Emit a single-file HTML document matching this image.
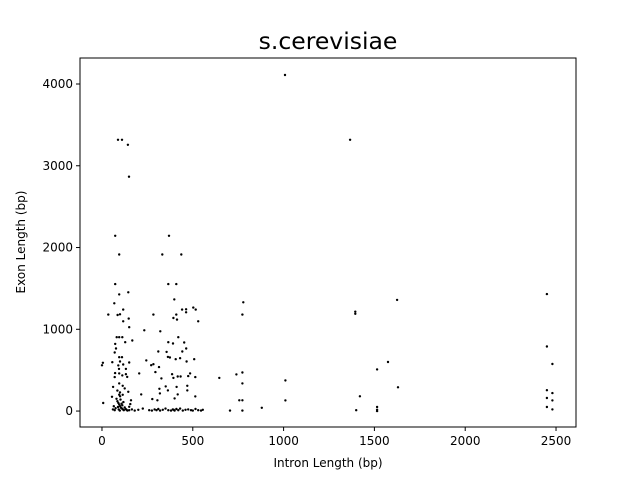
<!DOCTYPE html>
<html><head><meta charset="utf-8"><style>
body{margin:0;background:#fff;}
svg text{font-family:"DejaVu Sans","Liberation Sans",sans-serif;fill:#000;}
</style></head><body>
<svg id="chart" width="640" height="480" viewBox="0 0 640 480" xmlns="http://www.w3.org/2000/svg">
<rect width="640" height="480" fill="#fff"/>
<text x="328" y="49" font-size="23.5" text-anchor="middle">s.cerevisiae</text>
<g id="marks"></g>
<g id="axes"></g>
<rect x="80" y="58" width="496" height="369" fill="none" stroke="#000" stroke-width="1"/>
<text x="328" y="467" font-size="12" text-anchor="middle">Intron Length (bp)</text>
<text transform="translate(25,242) rotate(-90)" font-size="12" text-anchor="middle">Exon Length (bp)</text>
</svg>
<script>
const xTicks=[0,500,1000,1500,2000,2500];
const yTicks=[0,1000,2000,3000,4000];
const xs=[88,110,143,149,1008,1366,73,369,95,332,437,73,365,409,95,145,398,68,778,35,86,99,117,147,117,150,283,233,321,393,413,409,441,463,463,503,516,530,773,
81,95,112,128,167,73,77,70,95,110,99,0,5,57,117,150,90,94,132,72,95,112,132,139,70,205,
365,391,420,453,464,442,310,356,363,374,406,430,466,508,244,271,283,314,294,327,386,393,417,433,475,485,514,646,740,773,773,
61,95,114,125,55,99,114,145,216,316,351,363,319,277,305,411,417,400,470,470,514,7,756,773,160,156,150,
80,85,90,95,100,105,110,115,120,88,92,98,102,108,112,118,125,130,135,75,70,65,60,140,100,95,85,
150,165,180,200,225,260,275,290,300,310,320,335,350,365,380,390,395,400,410,420,430,445,460,475,490,500,515,530,545,555,705,773,880,
1010,1010,1395,1395,1400,1420,1515,1515,1515,1515,1575,1625,1630,2450,2450,2450,2450,2450,2480,2480,2480,2480];
const ys=[3317,3317,3256,2866,4110,3317,2143,2143,1915,1915,1915,1553,1553,1553,1427,1452,1366,1318,1330,1180,1175,1183,1241,1131,1098,1025,1180,988,976,1138,1119,1180,1241,1208,1244,1265,1241,1098,1180,
903,903,903,842,863,821,765,716,659,659,606,560,590,598,570,594,558,516,516,464,460,436,451,418,415,460,
842,826,903,838,765,728,728,723,662,655,634,647,606,634,619,561,573,537,476,399,451,406,423,423,427,460,415,406,448,472,338,
296,338,309,277,174,228,199,235,204,272,301,253,216,146,131,296,204,155,309,253,179,98,131,131,131,85,52,
150,120,100,80,60,40,30,20,10,50,20,5,140,90,70,110,45,25,15,35,10,60,20,5,180,200,250,
10,20,5,15,30,10,5,20,10,25,5,15,30,10,5,20,15,5,25,10,30,5,15,20,10,5,25,10,5,15,5,5,40,
375,130,1190,1215,10,180,510,50,15,0,600,1360,290,1430,790,255,160,50,575,220,130,20];
const X0=80,X1=576,Y0=58,Y1=427,xmin=-121,xmax=2610,ymin=-195,ymax=4318;
function sx(v){return X0+(v-xmin)/(xmax-xmin)*(X1-X0);}
function sy(v){return Y1-(v-ymin)/(ymax-ymin)*(Y1-Y0);}
const NS="http://www.w3.org/2000/svg";
const marks=document.getElementById('marks');
for(let i=0;i<xs.length;i++){
  const c=document.createElementNS(NS,'circle');
  c.setAttribute('cx',sx(xs[i]).toFixed(1));
  c.setAttribute('cy',sy(ys[i]).toFixed(1));
  c.setAttribute('r','1.2');
  c.setAttribute('fill','#000');
  
  
  marks.appendChild(c);
}
const axes=document.getElementById('axes');
xTicks.forEach(t=>{
  const x=sx(t);
  const l=document.createElementNS(NS,'line');
  l.setAttribute('x1',x);l.setAttribute('x2',x);l.setAttribute('y1',Y1);l.setAttribute('y2',Y1+4);
  l.setAttribute('stroke','#000');
  
  
  axes.appendChild(l);
  const tx=document.createElementNS(NS,'text');
  tx.setAttribute('x',x);tx.setAttribute('y',Y1+18);tx.setAttribute('font-size','12');tx.setAttribute('text-anchor','middle');
  tx.textContent=t;
  
  
  axes.appendChild(tx);
});
yTicks.forEach(t=>{
  const y=sy(t);
  const l=document.createElementNS(NS,'line');
  l.setAttribute('x1',X0-4);l.setAttribute('x2',X0);l.setAttribute('y1',y);l.setAttribute('y2',y);
  l.setAttribute('stroke','#000');
  
  
  axes.appendChild(l);
  const tx=document.createElementNS(NS,'text');
  tx.setAttribute('x',X0-7);tx.setAttribute('y',y+4);tx.setAttribute('font-size','12');tx.setAttribute('text-anchor','end');
  tx.textContent=t;
  
  
  axes.appendChild(tx);
});
</script>
</body></html>
